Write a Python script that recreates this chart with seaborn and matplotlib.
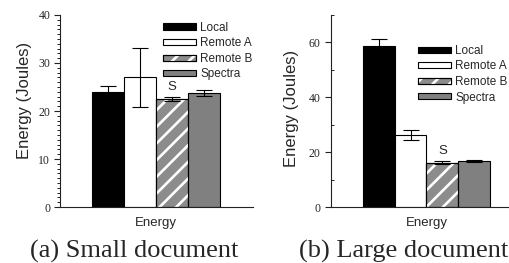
import matplotlib
matplotlib.use("Agg")
import matplotlib.pyplot as plt
import matplotlib.patches as mpatches
from matplotlib.legend_handler import HandlerTuple
from matplotlib.ticker import MultipleLocator
import seaborn as sns
import pandas as pd

# ---- data ----
categories = ["Local", "Remote A", "Remote B", "Spectra"]
metric = ["Energy"]
small_energy = [23.9, 27.0, 22.5, 23.7]
small_err = [1.3, 6.2, 0.5, 0.6]
large_energy = [58.7, 26.4, 16.2, 16.8]
large_err = [2.5, 1.8, 0.7, 0.4]
sig_label = "S"
sig_series = "Remote B"
captions = ["(a) Small document", "(b) Large document"]
ylabel = "Energy (Joules)"

colors = {"Local": "#000000", "Remote A": "#ffffff",
          "Remote B": "#8c8c8c", "Spectra": "#808080"}
hatched = "Remote B"

sns.set_style("ticks")
plt.rcParams["font.family"] = ["Liberation Sans", "DejaVu Sans"]
plt.rcParams["hatch.linewidth"] = 1.9

SERIF = ["Liberation Serif", "DejaVu Serif"]

fig = plt.figure(figsize=(5.10, 2.63), dpi=100)
W, H = 510, 263


def add_axes_px(x0, y_top, w, h):
    return fig.add_axes([x0 / W, (H - y_top - h) / H, w / W, h / H])


ax1 = add_axes_px(60, 15, 192.7, 192)
ax2 = add_axes_px(330.5, 15, 192, 192)


def draw_panel(ax, values, errs, ymax, major, minor, minor_dir,
               leg_anchor, ylab_x, ylab_y):
    df = pd.DataFrame({"metric": metric * len(categories),
                       "series": categories, "energy": values})
    sns.barplot(data=df, x="metric", y="energy", hue="series",
                hue_order=categories, palette=colors, width=0.664,
                edgecolor="black", linewidth=0.8, errorbar=None,
                saturation=1, legend=False, ax=ax)
    ax.set_xlim(-0.5, 0.5)
    ax.set_ylim(0, ymax)
    # hatch overlay for Remote B
    hi = categories.index(hatched)
    for p in ax.containers[hi]:
        ov = mpatches.Rectangle(p.get_xy(), p.get_width(), p.get_height(),
                                facecolor="none", edgecolor="white",
                                hatch="//", linewidth=0, zorder=p.get_zorder() + 0.1)
        ax.add_patch(ov)
        ol = mpatches.Rectangle(p.get_xy(), p.get_width(), p.get_height(),
                                fill=False, edgecolor="black", linewidth=0.8,
                                zorder=p.get_zorder() + 0.2)
        ax.add_patch(ol)
    # error bars
    for i, cont in enumerate(ax.containers[:len(categories)]):
        p = cont.patches[0]
        xc = p.get_x() + p.get_width() / 2
        ax.errorbar([xc], [values[i]], yerr=[errs[i]], fmt="none",
                    ecolor="black", elinewidth=0.8, capsize=5.8,
                    capthick=0.8, zorder=5)
        if categories[i] == sig_series:
            ax.annotate(sig_label, xy=(xc, values[i] + errs[i]),
                        xytext=(0, 4.5), textcoords="offset points",
                        ha="center", va="baseline", fontsize=9.5)
    # axes styling
    sns.despine(ax=ax)
    for s in ["left", "bottom"]:
        ax.spines[s].set_linewidth(0.8)
        ax.spines[s].set_color("#222222")
    ax.yaxis.set_major_locator(MultipleLocator(major))
    ax.yaxis.set_minor_locator(MultipleLocator(minor))
    ax.tick_params(axis="y", which="major", direction="out", length=4,
                   width=0.8, pad=3, labelsize=8.5, color="#222222")
    ax.tick_params(axis="y", which="minor", direction=minor_dir, length=2.5,
                   width=0.7, color="#222222")
    for lab in ax.get_yticklabels():
        lab.set_fontfamily(SERIF)
    ax.tick_params(axis="x", length=0, pad=7.5, labelsize=9.5)
    ax.set_xlabel("")
    ax.set_ylabel(ylabel, fontsize=12)
    ax.yaxis.set_label_coords(ylab_x, ylab_y)
    # legend
    handles = []
    for c in categories:
        face = mpatches.Patch(facecolor=colors[c], edgecolor="black", linewidth=0.8)
        if c == hatched:
            hp = mpatches.Patch(facecolor="none", edgecolor="white", hatch="//",
                                linewidth=0)
            op = mpatches.Patch(fill=False, edgecolor="black", linewidth=0.8)
            handles.append((face, hp, op))
        else:
            handles.append(face)
    ax.legend(handles, categories, loc="upper left", bbox_to_anchor=leg_anchor,
              frameon=False, fontsize=8.5, handlelength=2.8, handleheight=0.42,
              handletextpad=0.34, labelspacing=0.3, borderpad=0,
              borderaxespad=0,
              handler_map={tuple: HandlerTuple(ndivide=1, pad=0)})


draw_panel(ax1, small_energy, small_err, 40, 10, 1, "out",
           (0.536, 0.965), -0.145, 0.557)
draw_panel(ax2, large_energy, large_err, 70, 20, 10, "in",
           (0.456, 0.844), -0.165, 0.515)

fig.text(134 / W, 0.022, captions[0], ha="center", va="baseline",
         fontsize=19, family=SERIF)
fig.text(404 / W, 0.022, captions[1], ha="center", va="baseline",
         fontsize=19, family=SERIF)

fig.savefig("out.png", dpi=100)
